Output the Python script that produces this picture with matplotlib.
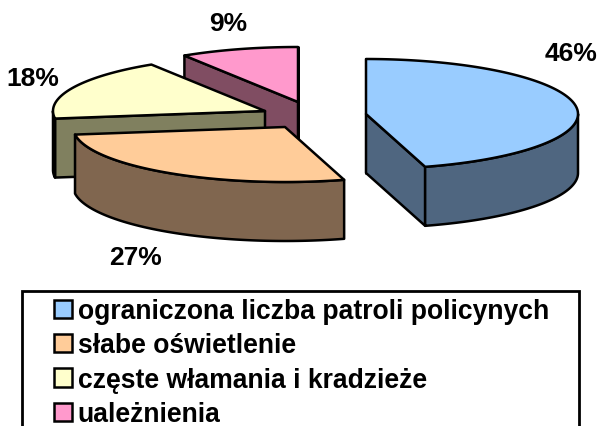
#!/usr/bin/python
# -*- coding: utf-8 -*-
"""Exploded 3D pie with a legend cut off at the bottom."""

import numpy as np
import matplotlib
matplotlib.use("Agg")
import matplotlib.pyplot as plt
from matplotlib.patches import Patch, Polygon, Rectangle

plt.rcParams["font.family"] = ["Liberation Sans", "DejaVu Sans"]

categories = ["ograniczona liczba patroli policynych", "słabe oświetlenie",
              "częste włamania i kradzieże", "uależnienia"]
values = [45.5, 27.3, 18.2, 9.0]
top_colors = ["#99CCFF", "#FFCC99", "#FFFFCC", "#FF99CC"]
side_colors = ["#4F6680", "#80664F", "#80805F", "#804D62"]
# where each exploded slice has its apex, in picture pixels
apex = [(366, 115), (285, 128), (265, 112), (298, 103)]
label_pos = [(571, 54), (135, 258), (33, 79), (228, 24)]

RX, RY, DEPTH = 212, 55, 59


def rim(cx, cy, start, stop):
    """Points of the ellipse, angles in degrees clockwise from 12 o'clock."""
    theta = np.radians(np.linspace(start, stop, max(int(abs(stop - start)) * 2, 2)))
    return np.column_stack([cx + RX * np.sin(theta), cy - RY * np.cos(theta)])


def slab(ax, points, color, zorder):
    ax.add_patch(Polygon(points, closed=True, facecolor=color, edgecolor="black",
                         linewidth=1.8, joinstyle="round", zorder=zorder))


fig = plt.figure(figsize=(6, 4.27), dpi=100)
ax = fig.add_axes([0, 0, 1, 1])
ax.set_xlim(0, 600)
ax.set_ylim(427, 0)
ax.axis("off")

# painter's order: back slices first
bounds = np.concatenate([[0], np.cumsum(values)]) / sum(values) * 360
for i in [3, 2, 1, 0]:
    cx, cy = apex[i]
    start, stop = bounds[i], bounds[i + 1]
    z = 10 + (3 - i) * 5
    drop = np.array([0, DEPTH])
    # only the cut faces turned to the viewer
    walls = []
    if np.sin(np.radians(start)) < 1e-9:
        walls.append(start)
    if np.sin(np.radians(stop)) > -1e-9:
        walls.append(stop)
    for angle in walls:
        edge = rim(cx, cy, angle, angle)[0]
        slab(ax, [(cx, cy), edge, edge + drop, (cx, cy + DEPTH)], side_colors[i], z)
    low, high = max(start, 90), min(stop, 270)
    if low < high:
        arc = rim(cx, cy, low, high)
        slab(ax, np.vstack([arc, arc[::-1] + drop]), side_colors[i], z + 1)
    slab(ax, np.vstack([[(cx, cy)], rim(cx, cy, start, stop)]), top_colors[i], z + 2)

for v, (x, y) in zip(values, label_pos):
    ax.text(x, y, f"{v:.0f}%", ha="center", va="center", fontsize=19, fontweight="bold",
            color="black")

# legend box runs off the bottom of the picture
ax.add_patch(Rectangle((22, 292), 557, 160, facecolor="white", edgecolor="black",
                       linewidth=2, zorder=39))
handles = [Patch(facecolor=c, edgecolor="black", linewidth=1.8) for c in top_colors]
leg = ax.legend(handles, categories, loc="upper left", bbox_to_anchor=(54 / 600, 1 - 299 / 427),
                borderaxespad=0, prop={"weight": "bold", "size": 19.1},
                frameon=False, handlelength=0.69, handleheight=0.69, handletextpad=0.2,
                labelspacing=0.32, borderpad=0)
leg.set_zorder(40)

fig.savefig("out.png", dpi=100)
